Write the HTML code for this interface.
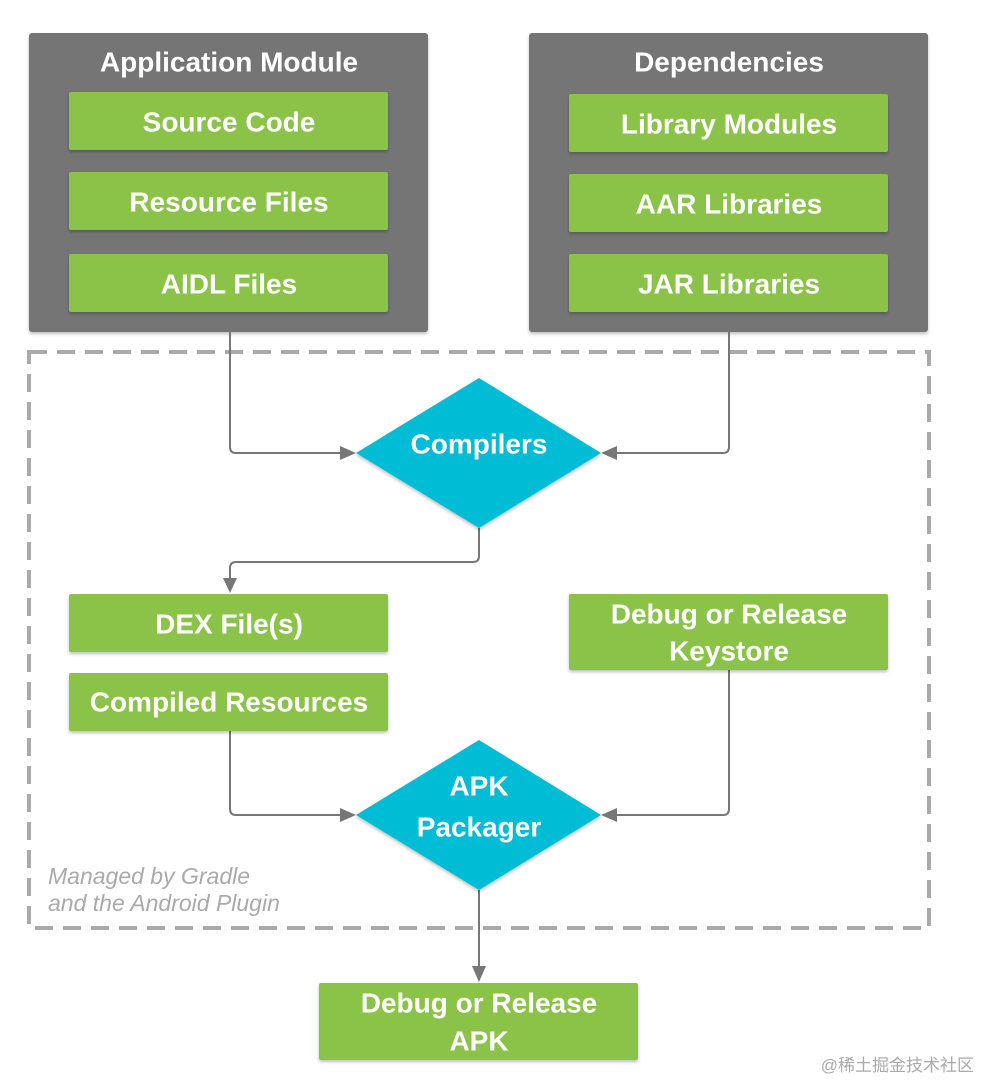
<!DOCTYPE html>
<html><head><meta charset="utf-8"><style>
html,body{margin:0;padding:0;background:#fff;}
svg{display:block}
.t{font-family:"Liberation Sans",sans-serif;font-size:28px;font-weight:bold;fill:#fff;text-anchor:middle;dominant-baseline:central}
.g{fill:#8bc34a}
.d{fill:#00bcd4}
.l{fill:none;stroke:#777;stroke-width:2}
.a{fill:#777}
</style></head><body>
<svg width="982" height="1080" viewBox="0 0 982 1080" xmlns="http://www.w3.org/2000/svg">
<defs><filter id="s" x="-5%" y="-5%" width="110%" height="115%"><feDropShadow dx="0" dy="2" stdDeviation="1.5" flood-opacity="0.25"/></filter></defs>
<rect x="29" y="33" width="399" height="299" rx="3" fill="#757575" filter="url(#s)"/>
<rect x="529" y="33" width="399" height="299" rx="3" fill="#757575" filter="url(#s)"/>
<text class="t" x="229" y="62">Application Module</text>
<text class="t" x="729" y="62">Dependencies</text>
<rect class="g" x="69" y="92" width="319" height="58" rx="2" filter="url(#s)"/>
<rect class="g" x="69" y="172" width="319" height="58" rx="2" filter="url(#s)"/>
<rect class="g" x="69" y="254" width="319" height="58" rx="2" filter="url(#s)"/>
<text class="t" x="229" y="122">Source Code</text>
<text class="t" x="229" y="202">Resource Files</text>
<text class="t" x="229" y="284">AIDL Files</text>
<rect class="g" x="569" y="94" width="319" height="58" rx="2" filter="url(#s)"/>
<rect class="g" x="569" y="174" width="319" height="58" rx="2" filter="url(#s)"/>
<rect class="g" x="569" y="254" width="319" height="58" rx="2" filter="url(#s)"/>
<text class="t" x="729" y="124">Library Modules</text>
<text class="t" x="729" y="204">AAR Libraries</text>
<text class="t" x="729" y="284">JAR Libraries</text>
<rect x="29" y="352" width="900" height="576" fill="none" stroke="#aaa" stroke-width="4" stroke-dasharray="18,10"/>
<path class="l" d="M230 332 V447 Q230 453 236 453 H342"/>
<polygon class="a" points="356,453 340,446 340,460"/>
<path class="l" d="M729 332 V447 Q729 453 723 453 H615"/>
<polygon class="a" points="601,453 617,446 617,460"/>
<path class="l" d="M479 528 V556 Q479 562 473 562 H236 Q230 562 230 568 V580"/>
<polygon class="a" points="230,593 223,578 237,578"/>
<path class="l" d="M230 731 V809 Q230 815 236 815 H342"/>
<polygon class="a" points="356,815 340,808 340,822"/>
<path class="l" d="M729 670 V809 Q729 815 723 815 H615"/>
<polygon class="a" points="601,815 617,808 617,822"/>
<path class="l" d="M479 890 V968"/>
<polygon class="a" points="479,982 472,966 486,966"/>
<polygon class="d" points="479,378 601,453 479,528 356,453" filter="url(#s)"/>
<text class="t" x="479" y="444">Compilers</text>
<polygon class="d" points="479,740 601,815 479,890 356,815" filter="url(#s)"/>
<text class="t" x="479" y="786">APK</text>
<text class="t" x="479" y="827">Packager</text>
<rect class="g" x="69" y="594" width="319" height="58" rx="2" filter="url(#s)"/>
<text class="t" x="229" y="624">DEX File(s)</text>
<rect class="g" x="69" y="673" width="319" height="58" rx="2" filter="url(#s)"/>
<text class="t" x="229" y="702">Compiled Resources</text>
<rect class="g" x="569" y="594" width="319" height="76" rx="2" filter="url(#s)"/>
<text class="t" x="729" y="614">Debug or Release</text>
<text class="t" x="729" y="651">Keystore</text>
<rect class="g" x="319" y="983" width="319" height="77" rx="2" filter="url(#s)"/>
<text class="t" x="479" y="1003">Debug or Release</text>
<text class="t" x="479" y="1041">APK</text>
<text x="48" y="884" font-family="Liberation Sans,sans-serif" font-style="italic" font-size="23" fill="#aaa">Managed by Gradle</text>
<text x="48" y="911" font-family="Liberation Sans,sans-serif" font-style="italic" font-size="23" fill="#aaa">and the Android Plugin</text>
<text x="974" y="1071" text-anchor="end" font-family="Liberation Sans,'Noto Sans CJK SC',sans-serif" font-size="17" fill="#aaa">@稀土掘金技术社区</text>
</svg>
</body></html>
